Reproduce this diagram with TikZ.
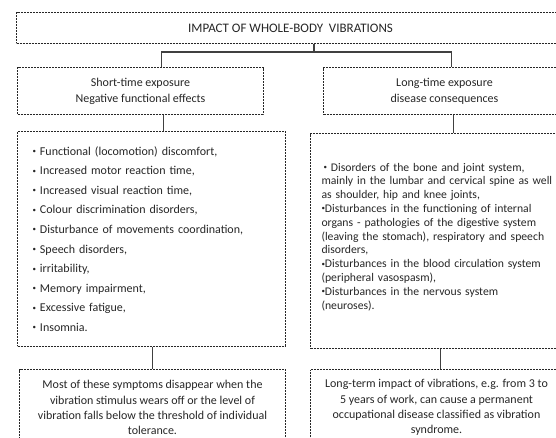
\documentclass[tikz,border=0pt]{standalone}
\usepackage{fontspec}
\setmainfont{Carlito}
\usepackage{tikz}
\usetikzlibrary{positioning}

\newcommand{\bul}{\raisebox{1.6pt}{\fontsize{7}{7}\selectfont\textbullet}}

\begin{document}
\begin{tikzpicture}[x=1pt, y=-1pt,
    dotbox/.style={draw=black!85, line width=1pt, dash pattern=on 0.8pt off 0.7pt, rectangle, inner sep=0pt, anchor=north west, text=black!85},
    link/.style={draw=black!75, line width=1.2pt},
    txt/.style={font=\fontsize{12}{#1}\selectfont},
    txt/.default=14]

    \useasboundingbox (0,0) rectangle (556,437);
    \clip (0,0) rectangle (556,437);

    % Title box across the top
    \node[dotbox, minimum width=548pt, minimum height=31pt, font=\fontsize{13}{14}\selectfont] (impact) at (16,12) {IMPACT OF WHOLE-BODY\ \ VIBRATIONS};

    % The two kinds of exposure
    \node[dotbox, minimum width=246pt, minimum height=47pt, align=center, txt=16] (short) at (17,67) {Short-time exposure\\ Negative functional effects};
    \node[dotbox, minimum width=242pt, minimum height=47pt, align=center, txt=16] (long) at (323,67) {Long-time exposure\\ disease consequences};

    % Lists of effects
    \node[dotbox, minimum height=215pt, text width=238pt, inner xsep=15pt, align=left, txt=19.6] (shortlist) at (17,131) {\bul\ Functional (locomotion) discomfort,\\ \bul\ Increased motor reaction time,\\ \bul\ Increased visual reaction time,\\ \bul\ Colour discrimination disorders,\\ \bul\ Disturbance of movements coordination,\\ \bul\ Speech disorders,\\ \bul\ irritability,\\ \bul\ Memory impairment,\\ \bul\ Excessive fatigue,\\ \bul\ Insomnia.};
    \node[dotbox, minimum height=215pt, text width=250pt, inner xsep=11pt, align=left, font=\fontsize{11.7}{13.8}\selectfont] (longlist) at (310,133) {\hspace*{2pt}\bul\ Disorders of the bone and joint system,\\ mainly in the lumbar and cervical spine as well\\ as shoulder, hip and knee joints,\\ \bul Disturbances in the functioning of internal\\ organs - pathologies of the digestive system\\ (leaving the stomach), respiratory and speech\\ disorders,\\ \bul Disturbances in the blood circulation system\\ (peripheral vasospasm),\\ \bul Disturbances in the nervous system\\ (neuroses).\\[-3.8pt]\mbox{}};

    % Closing remarks (cut off at the bottom)
    \node[dotbox, minimum width=266pt, minimum height=76pt, align=center, txt=15.2] (shortnote) at (19,369) {Most of these symptoms disappear when the\\ vibration stimulus wears off or the level of\\ vibration falls below the threshold of individual\\ tolerance.};
    \node[dotbox, minimum width=252pt, minimum height=76pt, align=center, txt=15.2] (longnote) at (310,369) {Long-term impact of vibrations, e.g. from 3 to\\ 5 years of work, can cause a permanent\\ occupational disease classified as vibration\\ syndrome.};

    % Connectors
    \coordinate (hub) at (314,52);
    \draw[link] (impact.south -| hub) -- (hub) -| ([xshift=21pt]short.north);
    \draw[link] (hub) -| ([xshift=7pt]long.north);
    \draw[link] ([xshift=23pt]short.south) -- ([xshift=12pt]shortlist.north);
    \draw[link] ([xshift=9pt]long.south) -- ([xshift=7pt]longlist.north);
    \draw[link] ([xshift=1pt]shortlist.south) -- (shortnote.north);
    \draw[link] ([xshift=-6pt]longlist.south) -- ([xshift=4pt]longnote.north);

\end{tikzpicture}
\end{document}
